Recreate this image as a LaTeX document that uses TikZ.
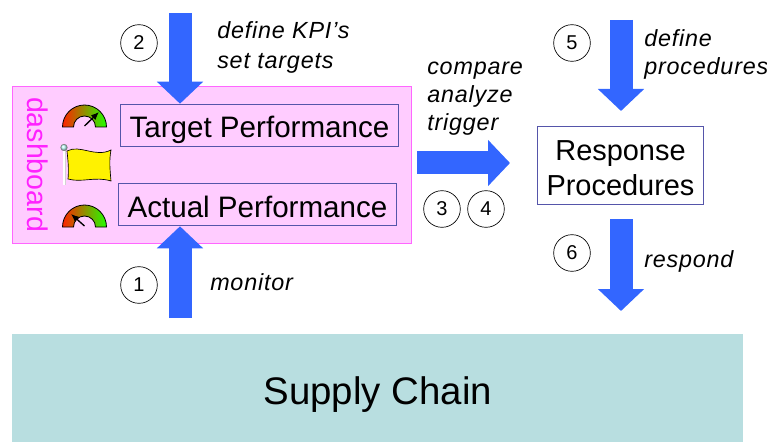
\documentclass[tikz,border=0pt]{standalone}
\usepackage{fontspec}
\setmainfont{Liberation Sans}
\newfontfamily\spacedfont[LetterSpace=3.5]{Liberation Sans}
\usetikzlibrary{arrows.meta,calc}
\definecolor{fatblue}{HTML}{3366FF}
\definecolor{boardfill}{HTML}{FFCCFF}
\definecolor{boardline}{HTML}{FF66FF}
\definecolor{boardtext}{HTML}{FF22FF}
\definecolor{boxline}{HTML}{5555AA}
\definecolor{chainfill}{HTML}{B8DEE0}
\definecolor{gaugered}{HTML}{FF2200}
\definecolor{gaugegreen}{HTML}{22FF00}
\tikzset{
  fatarrow/.style={draw=fatblue, line width=17.25pt, -{Triangle[length=16.5pt,width=33.75pt]}},
  perfbox/.style={draw=boxline, line width=0.7pt, minimum width=209pt, minimum height=32pt, inner sep=0pt, text height=18.3pt, text depth=0pt, font=\fontsize{22.2}{24}\selectfont},
  stepnum/.style={draw, circle, line width=0.5pt, minimum size=27.5pt, inner sep=0pt, font=\fontsize{15}{15}\selectfont},
  remark/.style={align=left, anchor=west, inner sep=0pt, font=\fontsize{17.5}{21}\spacedfont\itshape}
}
\begin{document}
\begin{tikzpicture}[x=0.75pt,y=-0.75pt]
\useasboundingbox (0,0) rectangle (767,442);
\node[draw=boardline, fill=boardfill, line width=0.8pt, minimum width=299pt, minimum height=117.5pt, inner sep=0pt, anchor=north west] (board) at (12,86) {};
\node[fill=chainfill, minimum width=548.25pt, minimum height=81pt, inner sep=0pt, anchor=north west, text height=25pt, text depth=0pt, font=\fontsize{28.8}{30}\selectfont] (chain) at (12,334) {Supply Chain};
\node[rotate=-90, text=boardtext, inner sep=0pt, font=\fontsize{21.4}{22}\selectfont] (boardname) at (38,164.5) {dashboard};
\node[perfbox] (target) at (259.5,125.5) {Target Performance};
\node[perfbox, text height=19.5pt] (actual) at (257.5,204.5) {Actual Performance};
\node[draw=boxline, fill=white, line width=0.7pt, minimum width=125pt, minimum height=59pt, inner sep=0pt, align=center, font=\fontsize{21.7}{26}\selectfont] (response) at (620.5,165.5) {\rule{0pt}{19pt}Response\\Procedures};
% gauges
\foreach \base/\nx/\ny in {127/99/112, 227/71/214} {
  \shade[left color=gaugered, right color=gaugegreen, draw=black, line width=0.6pt]
    (62.5,\base) arc[start angle=180,end angle=360,radius=22] -- ++(-11,0) arc[start angle=360,end angle=180,radius=11] -- cycle;
  \draw[line width=1pt, -{Latex[length=6pt,width=5pt]}] (84.5,\base-1) -- (\nx,\ny);
}
% flag
\fill[gray!35] (62.5,148) rectangle (65.5,185);
\fill[white] (63.2,150) rectangle (64.8,185);
\shade[ball color=cyan!25, draw=gray] (64,147.5) circle (3.3);
\draw[fill=yellow, line width=0.5pt] (67,151) .. controls (80,144) and (95,158) .. (111,150) .. controls (109,160) and (110,170) .. (111,181) .. controls (95,176) and (82,183) .. (68,179) .. controls (69,170) and (68,160) .. (67,151) -- cycle;
% arrows
\coordinate (kpitop) at (180,13);
\coordinate (monbot) at (180,318);
\coordinate (cmpstart) at (417,163);
\coordinate (cmpend) at (510,163);
\coordinate (proctop) at (621,20);
\coordinate (procend) at (621,111);
\coordinate (respstart) at (621,219);
\coordinate (respend) at (621,311);
\draw[fatarrow] (kpitop) -- (kpitop |- target.north);
\draw[fatarrow] (monbot) -- (monbot |- actual.south);
\draw[fatarrow] (cmpstart) -- (cmpend);
\draw[fatarrow] (proctop) -- (procend);
\draw[fatarrow] (respstart) -- (respend);
% steps
\node[stepnum] (one) at (139,285) {1};
\node[stepnum] (two) at (139,43) {2};
\node[stepnum] (three) at (442,209) {3};
\node[stepnum] (four) at (486,209) {4};
\node[stepnum] (five) at (572,43) {5};
\node[stepnum] (six) at (572,253) {6};
\node[remark, font=\fontsize{17.5}{22.5}\spacedfont\itshape] (kpi) at (217,47) {define KPI’s\\set targets};
\node[remark] (monitor) at (210,282) {monitor};
\node[remark] (compare) at (427,99) {compare\\analyze\\trigger};
\node[remark] (define) at (644,54) {define\\procedures};
\node[remark] (respond) at (644,261) {respond};
\end{tikzpicture}
\end{document}
